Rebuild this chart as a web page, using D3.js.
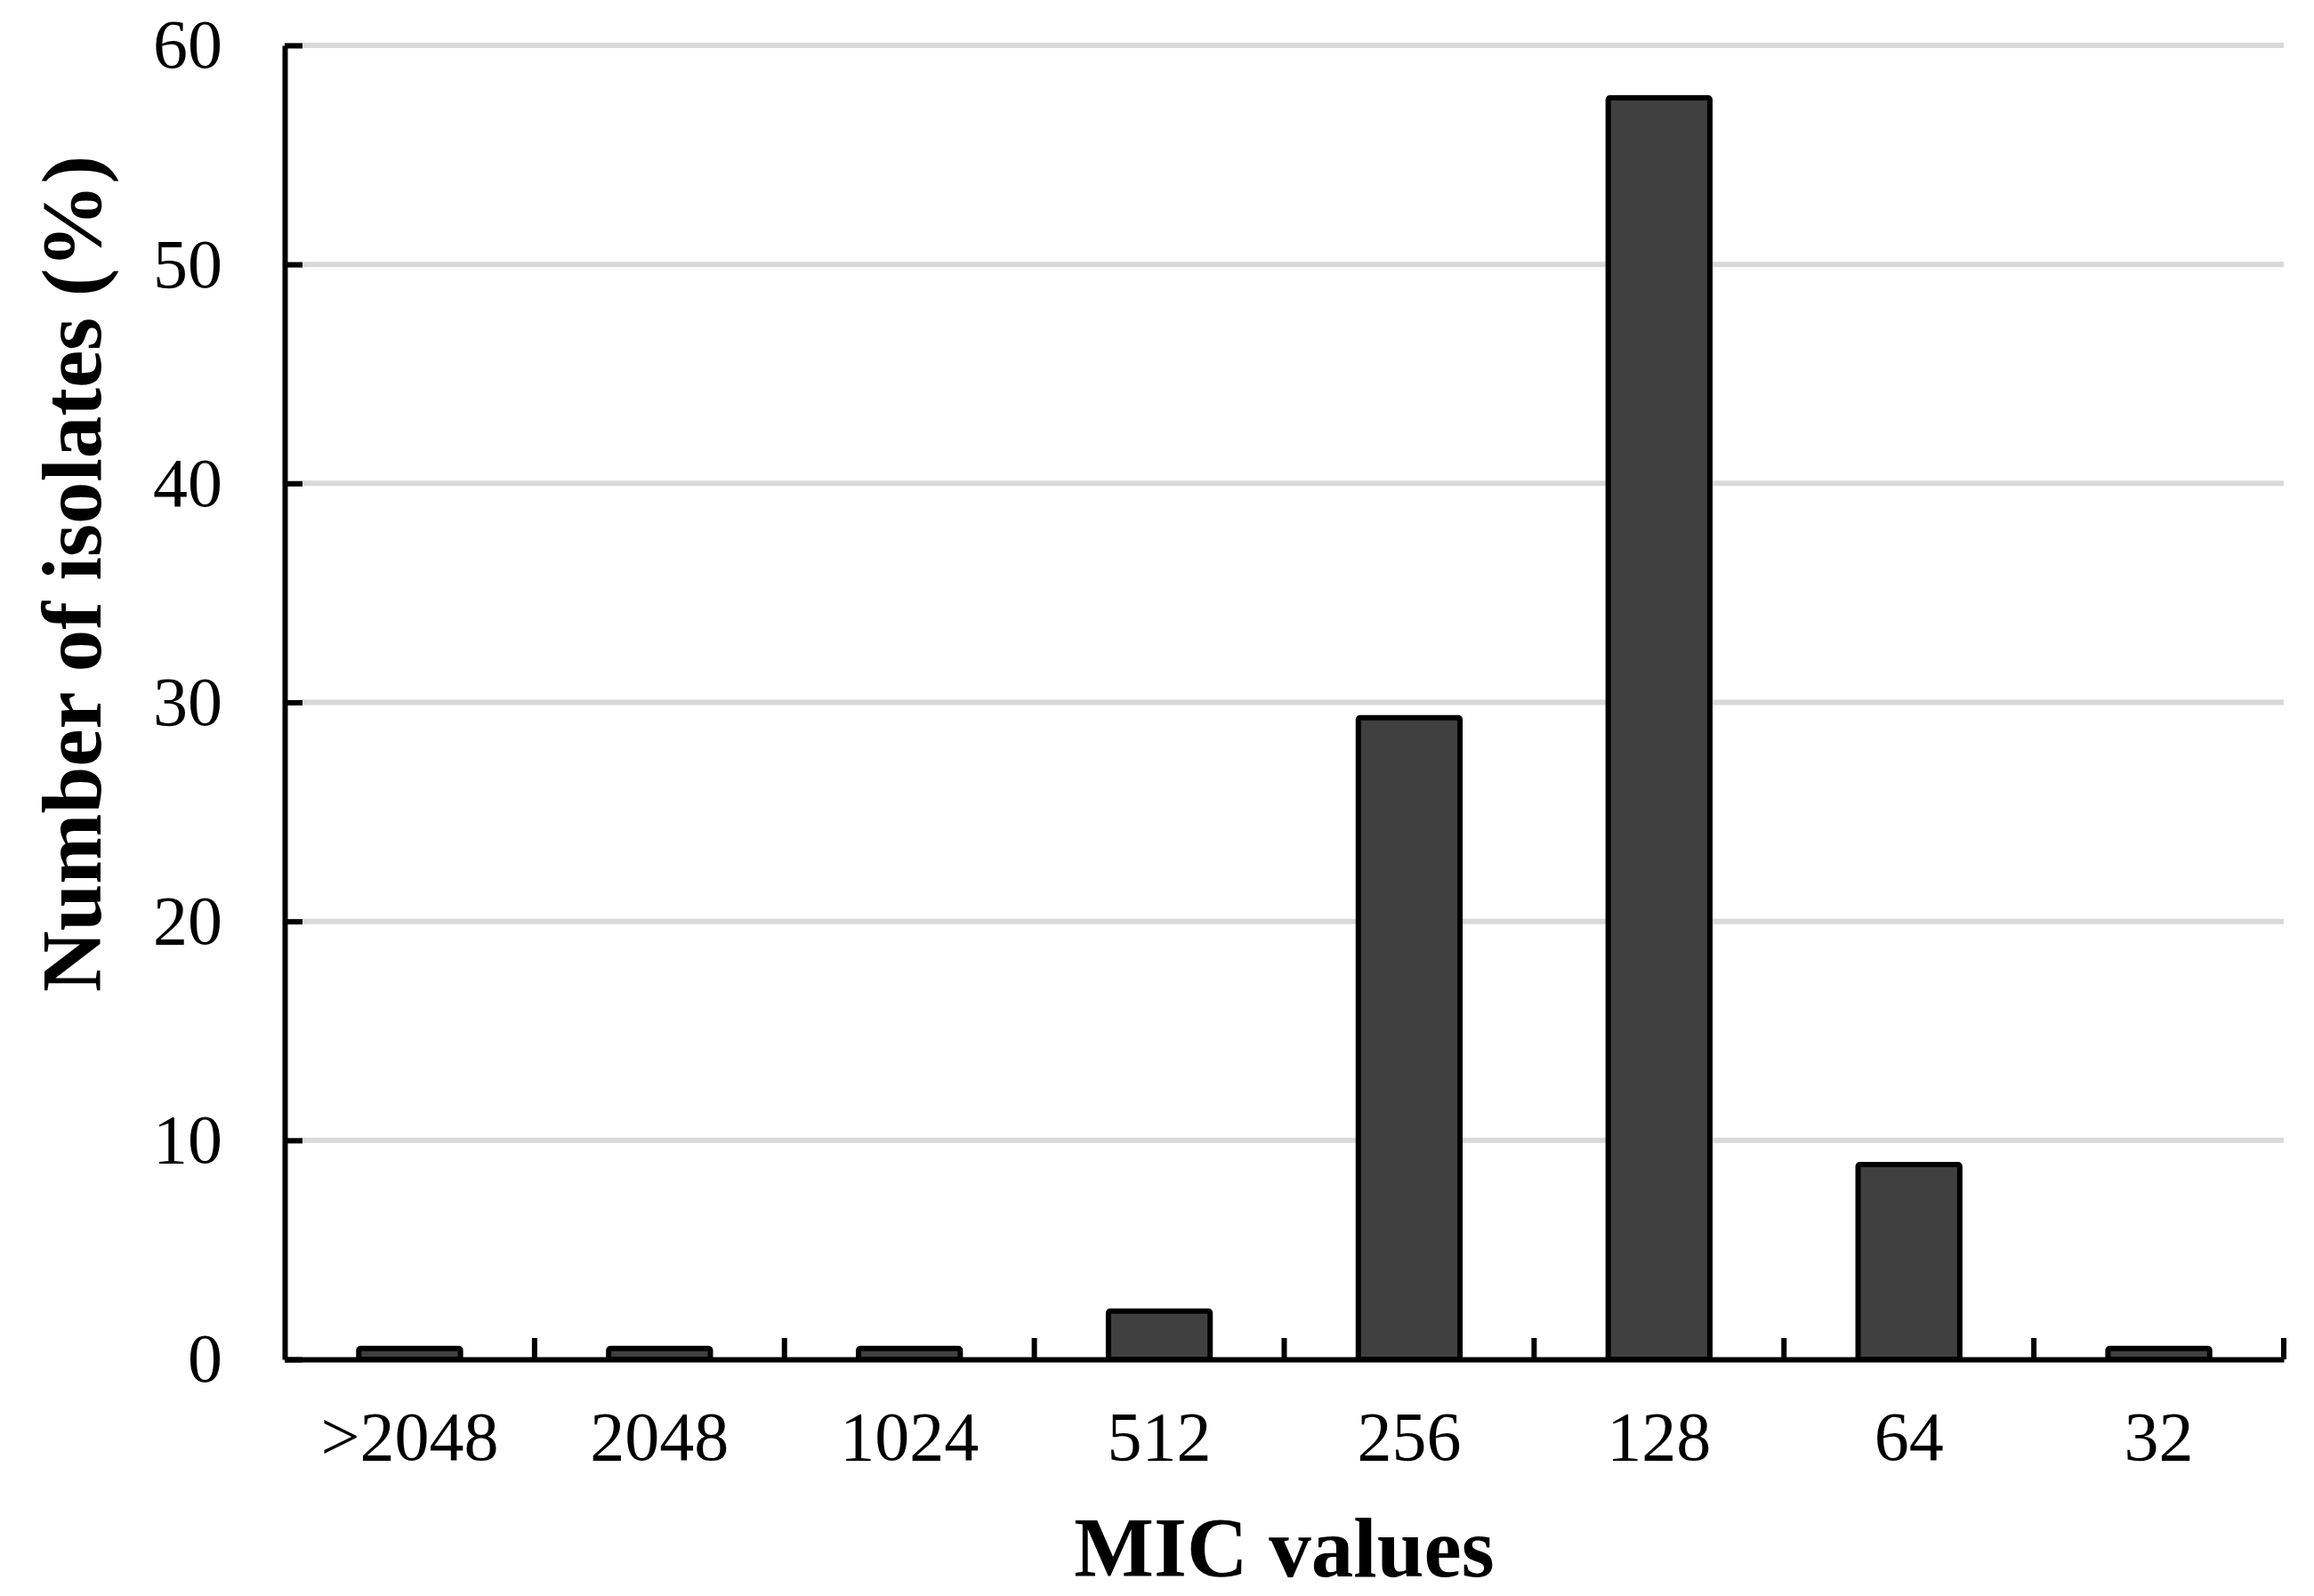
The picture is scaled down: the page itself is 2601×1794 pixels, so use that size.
<!DOCTYPE html>
<html>
<head>
<meta charset="utf-8">
<script src="https://cdn.jsdelivr.net/npm/d3@7"></script>
<style>
  body { margin: 0; background: #fff; }
  text { font-family: "Liberation Serif", "Times New Roman", serif; fill: #000; }
</style>
</head>
<body>
<div id="app"></div>
<script>
// MIC distribution, percent of isolates
var categories = [">2048", "2048", "1024", "512", "256", "128", "64", "32"];
var percents = [0.5, 0.5, 0.5, 2.2, 29.3, 57.6, 8.9, 0.5];
var yTicks = [0, 10, 20, 30, 40, 50, 60];

var width = 2601, height = 1794;
var plotLeft = 320, plotRight = 2567, plotTop = 51, plotBottom = 1528;

var svg = d3.select("#app").append("svg")
  .attr("width", width).attr("height", height);

var x = d3.scaleBand().domain(categories).range([plotLeft, plotRight])
  .paddingInner(0.593).paddingOuter(0.2965);
var y = d3.scaleLinear().domain([0, 60]).range([plotBottom, plotTop]);

// gridlines
svg.append("g").selectAll("line")
  .data(yTicks.filter(function (d) { return d > 0; }))
  .enter().append("line")
  .attr("x1", plotLeft).attr("x2", plotRight)
  .attr("y1", function (d) { return y(d); })
  .attr("y2", function (d) { return y(d); })
  .attr("stroke", "#d9d9d9").attr("stroke-width", 6);

// bars
svg.append("g").selectAll("rect")
  .data(categories)
  .enter().append("rect")
  .attr("x", function (d) { return x(d); })
  .attr("width", x.bandwidth())
  .attr("y", function (d, i) { return y(percents[i]); })
  .attr("height", function (d, i) { return y(0) - y(percents[i]); })
  .attr("rx", 2)
  .attr("fill", "#404040").attr("stroke", "#000").attr("stroke-width", 6);

// y axis
var yAxis = svg.append("g").attr("transform", "translate(" + plotLeft + ",0)")
  .call(d3.axisLeft(y).tickValues(yTicks).tickSize(-20).tickSizeOuter(0).tickPadding(70));
yAxis.selectAll("path, line").attr("stroke", "#000").attr("stroke-width", 6);
yAxis.selectAll("text").attr("font-size", 78)
  .style("font-family", "'Liberation Serif', serif");

// x axis
var xAxis = svg.append("g").attr("transform", "translate(0," + plotBottom + ")")
  .call(d3.axisBottom(x).tickSize(0).tickSizeOuter(0).tickPadding(58));
xAxis.select(".domain").attr("stroke", "#000").attr("stroke-width", 6);
xAxis.selectAll("text").attr("font-size", 78)
  .style("font-family", "'Liberation Serif', serif");

// category boundary ticks (pointing up)
xAxis.selectAll(".bound")
  .data(categories)
  .enter().append("line")
  .attr("class", "bound")
  .attr("x1", function (d) { return x(d) + x.bandwidth() + (x.step() - x.bandwidth()) / 2; })
  .attr("x2", function (d) { return x(d) + x.bandwidth() + (x.step() - x.bandwidth()) / 2; })
  .attr("y1", 0).attr("y2", -24)
  .attr("stroke", "#000").attr("stroke-width", 6);

// titles
svg.append("text")
  .attr("x", (plotLeft + plotRight) / 2).attr("y", 1772)
  .attr("text-anchor", "middle").attr("font-size", 95).attr("font-weight", "bold")
  .text("MIC values");

svg.append("text")
  .attr("transform", "translate(113,645) rotate(-90)")
  .attr("text-anchor", "middle").attr("font-size", 95).attr("font-weight", "bold")
  .text("Number of isolates (%)");
</script>
</body>
</html>
